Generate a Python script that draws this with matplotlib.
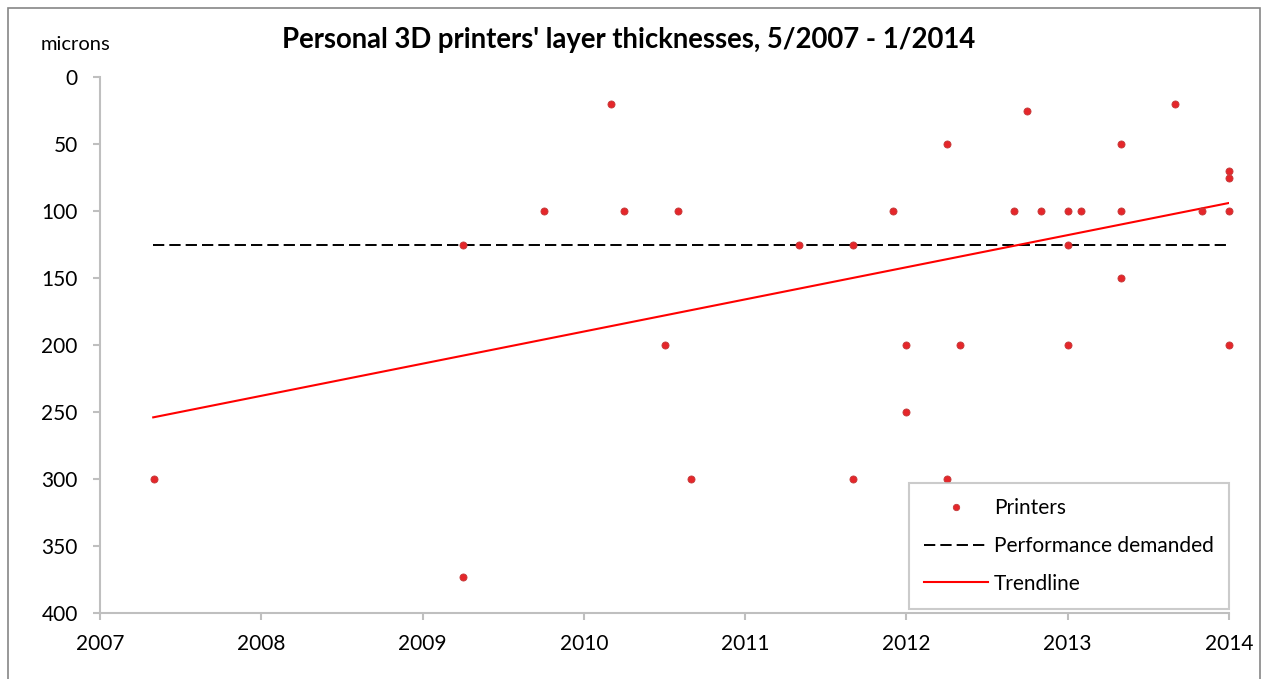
import numpy as np
import matplotlib
matplotlib.use("Agg")
import matplotlib.pyplot as plt
from matplotlib.patches import Rectangle
from matplotlib.lines import Line2D

plt.rcParams['font.family'] = ['Lato', 'DejaVu Sans']

# release month of each printer ("YYYY-MM") and its layer thickness in microns
release_dates = [
    "2007-05",
    "2009-04", "2009-04", "2009-10",
    "2010-03", "2010-04", "2010-07", "2010-08", "2010-09",
    "2011-05", "2011-09", "2011-09", "2011-12",
    "2012-01", "2012-01", "2012-04", "2012-04", "2012-05",
    "2012-09", "2012-10", "2012-11",
    "2013-01", "2013-01", "2013-01", "2013-02",
    "2013-05", "2013-05", "2013-05", "2013-09", "2013-11",
    "2014-01", "2014-01", "2014-01", "2014-01",
]
layer_microns = [
    300,
    125, 373, 100,
    20, 100, 200, 100, 300,
    125, 125, 300, 100,
    200, 250, 50, 300, 200,
    100, 25, 100,
    100, 125, 200, 100,
    50, 100, 150, 20, 100,
    70, 75, 100, 200,
]

# demanded performance level and linear trendline end points
demand_x = [2007.33, 2014.0]
demand_y = [125, 125]
trend_x = [2007.33, 2014.0]
trend_y = [254, 94]

y_ticks = [0, 50, 100, 150, 200, 250, 300, 350, 400]
x_ticks = [2007, 2008, 2009, 2010, 2011, 2012, 2013, 2014]


def to_year(s):
    y, m = s.split("-")
    return int(y) + (int(m) - 1) / 12.0


years = [to_year(d) for d in release_dates]

W, H = 1267, 679
fig = plt.figure(figsize=(W / 100, H / 100), dpi=100)
ax = fig.add_axes([100 / W, 1 - 613 / H, (1229 - 100) / W, (613 - 77) / H])

grey = "#BFBFBF"
dash = (5.8, 2.6)

ax.plot(demand_x, demand_y, color="black", lw=1.4, dashes=dash, zorder=2)
ax.plot(trend_x, trend_y, color="#FF0000", lw=1.5, zorder=3)
ax.scatter(years, layer_microns, s=26, facecolor="#E5262A", edgecolor="#C23B3B",
           linewidths=0.6, zorder=4, clip_on=False)

ax.set_xlim(2007, 2014)
ax.set_ylim(400, 0)
ax.set_xticks(x_ticks)
ax.set_yticks(y_ticks)
ax.set_xticklabels([str(t) for t in x_ticks])
ax.set_yticklabels([str(t) for t in y_ticks])

for side in ("top", "right"):
    ax.spines[side].set_visible(False)
for side in ("left", "bottom"):
    ax.spines[side].set_color(grey)
    ax.spines[side].set_linewidth(1.5)
ax.tick_params(axis="both", colors=grey, direction="out", length=5, width=1.5,
               labelcolor="black", labelsize=15)
ax.tick_params(axis="x", pad=10)
ax.tick_params(axis="y", pad=11)

# chart title and unit label
fig.text(629 / W, 1 - 48 / H, "Personal 3D printers' layer thicknesses, 5/2007 - 1/2014",
         ha="center", va="baseline", fontsize=19.8, fontweight="bold")
fig.text(76 / W, 1 - 44 / H, "microns", ha="center", va="center", fontsize=14.5)

# legend
handles = [
    Line2D([], [], ls="none", marker="o", markersize=4.6, markerfacecolor="#E5262A",
           markeredgecolor="#C23B3B", markeredgewidth=0.6),
    Line2D([], [], color="black", lw=1.4, dashes=dash),
    Line2D([], [], color="#FF0000", lw=1.5),
]
labels = ["Printers", "Performance demanded", "Trendline"]
leg = ax.legend(handles, labels, loc="lower right", bbox_to_anchor=(1.0, 0.008),
                borderaxespad=0, frameon=True, fancybox=False, fontsize=15,
                handlelength=3.05, handletextpad=0.3, labelspacing=0.85,
                borderpad=0.72)
leg.get_frame().set_edgecolor(grey)
leg.get_frame().set_linewidth(1.5)

# outer chart border
fig.patches.append(Rectangle((8 / W, -0.02), (1260 - 8) / W, 1.02 - 8 / H,
                             transform=fig.transFigure, fill=False,
                             edgecolor="#868686", lw=1.2))

fig.savefig("out.png", dpi=100)
